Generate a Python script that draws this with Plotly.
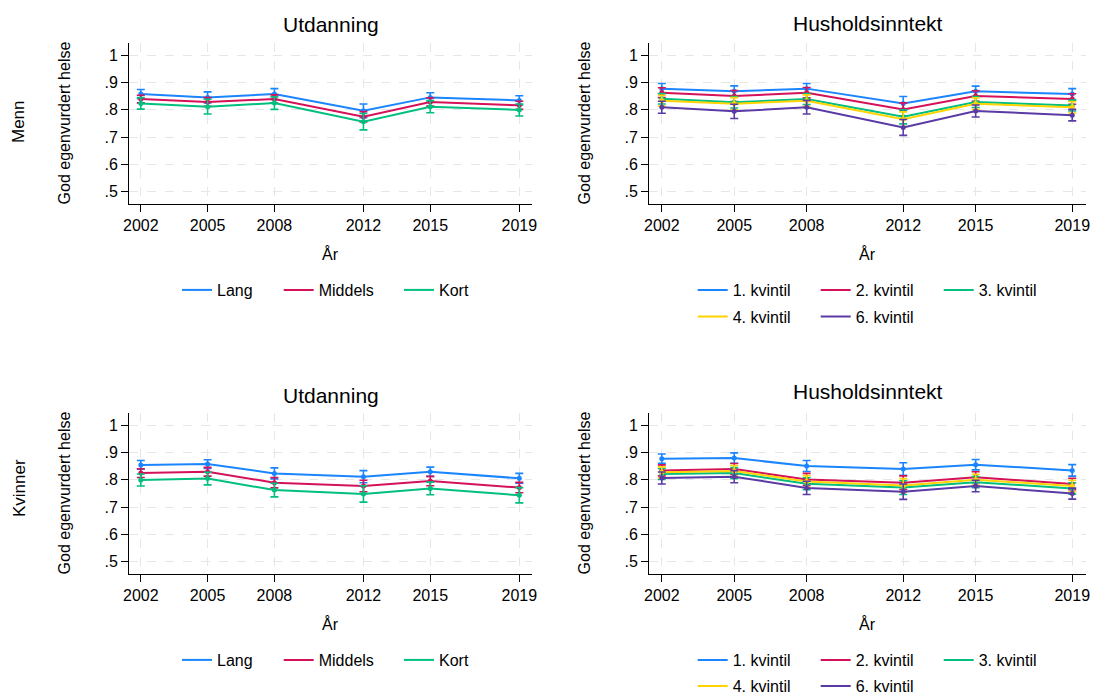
import plotly.graph_objects as go

# ---------------- data ----------------
years = [2002, 2005, 2008, 2012, 2015, 2019]
ytick_vals = [0.5, 0.6, 0.7, 0.8, 0.9, 1.0]
ytick_text = [".5", ".6", ".7", ".8", ".9", "1"]

edu_names = ["Lang", "Middels", "Kort"]
inc_names = ["1. kvintil", "2. kvintil", "3. kvintil", "4. kvintil", "6. kvintil"]

# Menn - Utdanning
menn_lang = [0.857, 0.845, 0.857, 0.796, 0.845, 0.834]
menn_lang_ci = [0.017, 0.020, 0.020, 0.025, 0.017, 0.017]
menn_middels = [0.839, 0.828, 0.839, 0.774, 0.828, 0.816]
menn_middels_ci = [0.014, 0.016, 0.015, 0.019, 0.015, 0.015]
menn_kort = [0.823, 0.811, 0.824, 0.756, 0.811, 0.799]
menn_kort_ci = [0.021, 0.027, 0.023, 0.030, 0.022, 0.022]

# Menn - Husholdsinntekt
menn_q1 = [0.877, 0.867, 0.877, 0.823, 0.867, 0.857]
menn_q1_ci = [0.019, 0.020, 0.019, 0.025, 0.019, 0.020]
menn_q2 = [0.862, 0.850, 0.862, 0.801, 0.850, 0.839]
menn_q2_ci = [0.018, 0.020, 0.019, 0.024, 0.019, 0.019]
menn_q3 = [0.840, 0.827, 0.839, 0.774, 0.828, 0.815]
menn_q3_ci = [0.019, 0.021, 0.020, 0.026, 0.020, 0.020]
menn_q4 = [0.833, 0.822, 0.833, 0.765, 0.822, 0.809]
menn_q4_ci = [0.020, 0.022, 0.021, 0.027, 0.021, 0.021]
menn_q6 = [0.809, 0.794, 0.809, 0.735, 0.795, 0.780]
menn_q6_ci = [0.022, 0.026, 0.025, 0.029, 0.022, 0.021]

# Kvinner - Utdanning
kv_lang = [0.854, 0.857, 0.823, 0.811, 0.829, 0.805]
kv_lang_ci = [0.016, 0.016, 0.020, 0.022, 0.017, 0.018]
kv_middels = [0.824, 0.829, 0.789, 0.777, 0.795, 0.771]
kv_middels_ci = [0.016, 0.016, 0.019, 0.021, 0.017, 0.019]
kv_kort = [0.799, 0.804, 0.762, 0.748, 0.768, 0.743]
kv_kort_ci = [0.022, 0.023, 0.025, 0.030, 0.023, 0.028]

# Kvinner - Husholdsinntekt
kv_q1 = [0.877, 0.879, 0.850, 0.839, 0.855, 0.834]
kv_q1_ci = [0.017, 0.019, 0.020, 0.023, 0.019, 0.021]
kv_q2 = [0.834, 0.839, 0.801, 0.789, 0.809, 0.784]
kv_q2_ci = [0.020, 0.020, 0.022, 0.025, 0.020, 0.021]
kv_q3 = [0.821, 0.824, 0.785, 0.771, 0.791, 0.768]
kv_q3_ci = [0.020, 0.020, 0.022, 0.025, 0.020, 0.021]
kv_q4 = [0.827, 0.832, 0.793, 0.779, 0.800, 0.777]
kv_q4_ci = [0.020, 0.020, 0.022, 0.025, 0.020, 0.021]
kv_q6 = [0.806, 0.811, 0.770, 0.756, 0.777, 0.749]
kv_q6_ci = [0.022, 0.022, 0.024, 0.028, 0.021, 0.020]

colors = ["#1a85ff", "#d41159", "#00bf7f", "#ffd400", "#5a3aa5"]

# ---------------- figure ----------------
W, H = 1101, 693
OFF = 8  # page body margin of the html page
FONT = "Liberation Sans, Arial, sans-serif"

fig = go.Figure()


def add_series(vals, ci, name, color, xa, ya, legend):
    # line + confidence interval (shown in legend)
    fig.add_trace(go.Scatter(
        x=years, y=vals, name=name, mode="lines",
        line=dict(color=color, width=2),
        error_y=dict(type="data", array=ci, visible=True, color=color,
                     thickness=1.6, width=4),
        xaxis=xa, yaxis=ya, legend=legend, showlegend=True,
    ))
    # point markers
    fig.add_trace(go.Scatter(
        x=years, y=vals, name=name, mode="markers",
        marker=dict(color=color, size=5, symbol="circle"),
        xaxis=xa, yaxis=ya, showlegend=False, hoverinfo="skip",
    ))


edu_leg_top = ["legend", "legend7", "legend8"]
edu_leg_bot = ["legend4", "legend9", "legend10"]

# panel 1: Menn - Utdanning
for v, c, n, col, lg in zip([menn_lang, menn_middels, menn_kort],
                            [menn_lang_ci, menn_middels_ci, menn_kort_ci],
                            edu_names, colors, edu_leg_top):
    add_series(v, c, n, col, "x", "y", lg)

# panel 2: Menn - Husholdsinntekt
for i, (v, c, n, col) in enumerate(zip(
        [menn_q1, menn_q2, menn_q3, menn_q4, menn_q6],
        [menn_q1_ci, menn_q2_ci, menn_q3_ci, menn_q4_ci, menn_q6_ci],
        inc_names, colors)):
    add_series(v, c, n, col, "x2", "y2", "legend2" if i < 3 else "legend3")

# panel 3: Kvinner - Utdanning
for v, c, n, col, lg in zip([kv_lang, kv_middels, kv_kort],
                            [kv_lang_ci, kv_middels_ci, kv_kort_ci],
                            edu_names, colors, edu_leg_bot):
    add_series(v, c, n, col, "x3", "y3", lg)

# panel 4: Kvinner - Husholdsinntekt
for i, (v, c, n, col) in enumerate(zip(
        [kv_q1, kv_q2, kv_q3, kv_q4, kv_q6],
        [kv_q1_ci, kv_q2_ci, kv_q3_ci, kv_q4_ci, kv_q6_ci],
        inc_names, colors)):
    add_series(v, c, n, col, "x4", "y4", "legend5" if i < 3 else "legend6")


def px_x(p):
    return (p - OFF) / W


def px_y(p):
    return 1 - (p - OFF) / H


xdom_left = [px_x(129), px_x(532)]
xdom_right = [px_x(649), px_x(1086)]
ydom_top = [px_y(204), px_y(42.7)]
ydom_bot = [px_y(574), px_y(412.7)]

axis_common = dict(
    showline=True, linecolor="#000000", linewidth=1,
    ticks="outside", ticklen=7, tickcolor="#000000", tickwidth=1,
    showgrid=True, gridcolor="#e6e6e6", griddash="dash", gridwidth=1,
    zeroline=False, mirror=False,
    tickfont=dict(family=FONT, size=16, color="#000000"),
)

xr = [2001.47, 2019.57]
yr = [0.455, 1.045]


def xaxis(dom, anchor):
    return dict(axis_common, domain=dom, anchor=anchor, range=xr,
                tickmode="array", tickvals=years,
                ticktext=[str(y) for y in years])


def yaxis(dom, anchor):
    return dict(axis_common, domain=dom, anchor=anchor, range=yr,
                tickmode="array", tickvals=ytick_vals, ticktext=ytick_text)


def legend_at(text_x, ypx, entry=None):
    d = dict(orientation="h", x=px_x(text_x - 40), y=px_y(ypx),
             xanchor="left", yanchor="middle", bgcolor="rgba(0,0,0,0)",
             font=dict(family=FONT, size=16, color="#000000"),
             borderwidth=0, traceorder="normal")
    if entry:
        d.update(entrywidth=entry, entrywidthmode="pixels")
    return d


fig.update_layout(
    width=W, height=H,
    margin=dict(l=0, r=0, t=0, b=0, autoexpand=False),
    paper_bgcolor="white", plot_bgcolor="white",
    font=dict(family=FONT, size=16, color="#000000"),
    xaxis=xaxis(xdom_left, "y"), yaxis=yaxis(ydom_top, "x"),
    xaxis2=xaxis(xdom_right, "y2"), yaxis2=yaxis(ydom_top, "x2"),
    xaxis3=xaxis(xdom_left, "y3"), yaxis3=yaxis(ydom_bot, "x3"),
    xaxis4=xaxis(xdom_right, "y4"), yaxis4=yaxis(ydom_bot, "x4"),
    legend=legend_at(217, 290),
    legend7=legend_at(318.7, 290),
    legend8=legend_at(439, 290),
    legend2=legend_at(732.7, 290, 78),
    legend3=legend_at(732.7, 316.7, 78),
    legend4=legend_at(217, 660),
    legend9=legend_at(318.7, 660),
    legend10=legend_at(439, 660),
    legend5=legend_at(732.7, 660, 78),
    legend6=legend_at(732.7, 686, 78),
    showlegend=True,
)

annots = []


def text(t, xpx, ypx, size, angle=0):
    annots.append(dict(text=t, x=px_x(xpx), y=px_y(ypx), xref="paper",
                       yref="paper", showarrow=False, xanchor="center",
                       yanchor="middle", textangle=angle,
                       font=dict(family=FONT, size=size, color="#000000")))


# panel titles
text("Utdanning", 330.5, 25, 21)
text("Husholdsinntekt", 867.5, 23, 21)
text("Utdanning", 330.5, 395, 21)
text("Husholdsinntekt", 867.5, 391, 21)
# axis titles
text("År", 330.5, 254, 16)
text("År", 867.5, 254, 16)
text("År", 330.5, 624, 16)
text("År", 867.5, 624, 16)
text("God egenvurdert helse", 64, 123.4, 16, -90)
text("God egenvurdert helse", 584, 123.4, 16, -90)
text("God egenvurdert helse", 64, 493.4, 16, -90)
text("God egenvurdert helse", 584, 493.4, 16, -90)
# row labels
text("Menn", 19, 122, 17, -90)
text("Kvinner", 19, 488, 17, -90)

fig.update_layout(annotations=annots)

fig.write_html("out.html")
